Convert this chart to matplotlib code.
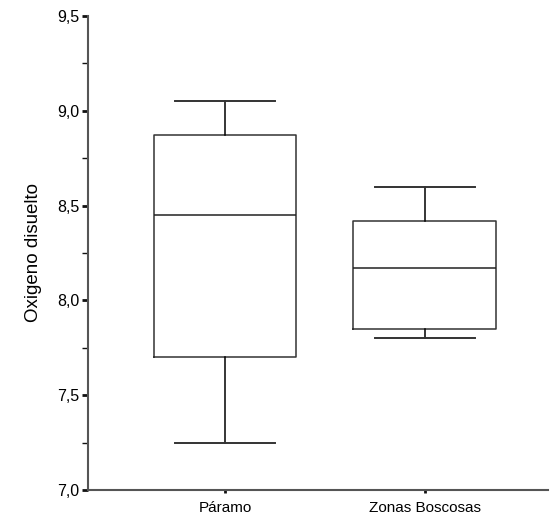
import matplotlib
matplotlib.use("Agg")
import matplotlib.pyplot as plt
from matplotlib.ticker import MultipleLocator, FuncFormatter

plt.rcParams['font.family'] = ['Liberation Sans', 'DejaVu Sans']

categories = ["Páramo", "Zonas Boscosas"]
whislo = [7.25, 7.80]
q1 = [7.70, 7.85]
med = [8.45, 8.17]
q3 = [8.87, 8.42]
whishi = [9.05, 8.60]
ylabel = "Oxigeno disuelto"

stats = []
for i, c in enumerate(categories):
    stats.append(dict(label=c, whislo=whislo[i], q1=q1[i], med=med[i],
                      q3=q3[i], whishi=whishi[i], fliers=[]))

fig = plt.figure(figsize=(5.52, 5.22), dpi=100)
ax = fig.add_axes([88/552, 32/522, 460/552, 474/522])

ax.bxp(stats, positions=[1, 2], widths=0.715, capwidths=0.5,
       showfliers=False,
       boxprops=dict(color='#333333', linewidth=1.1),
       medianprops=dict(color='#222222', linewidth=1.1),
       whiskerprops=dict(color='black', linewidth=1.1),
       capprops=dict(color='#333333', linewidth=1.4))

ax.set_xlim(0.315, 2.615)
ax.set_ylim(7.0, 9.5)
ax.yaxis.set_major_locator(MultipleLocator(0.5))
ax.yaxis.set_minor_locator(MultipleLocator(0.25))
ax.yaxis.set_major_formatter(FuncFormatter(lambda v, p: f"{v:.1f}".replace('.', ',')))
ax.set_xticks([1, 2])
ax.set_xticklabels(categories)

for s in ['top', 'right']:
    ax.spines[s].set_visible(False)
for s in ['left', 'bottom']:
    ax.spines[s].set_color('#555555')
    ax.spines[s].set_linewidth(1.5)

ax.tick_params(axis='y', which='major', direction='out', length=4, width=2, color='#111111', labelsize=11.5, pad=2)
ax.tick_params(axis='y', which='minor', direction='out', length=4, width=1, color='#111111')
ax.tick_params(axis='x', which='major', direction='out', length=2, width=2, color='#111111', labelsize=11, pad=6)

ax.set_ylabel(ylabel, fontsize=13.5, labelpad=11)

fig.savefig("out.png", dpi=100)
